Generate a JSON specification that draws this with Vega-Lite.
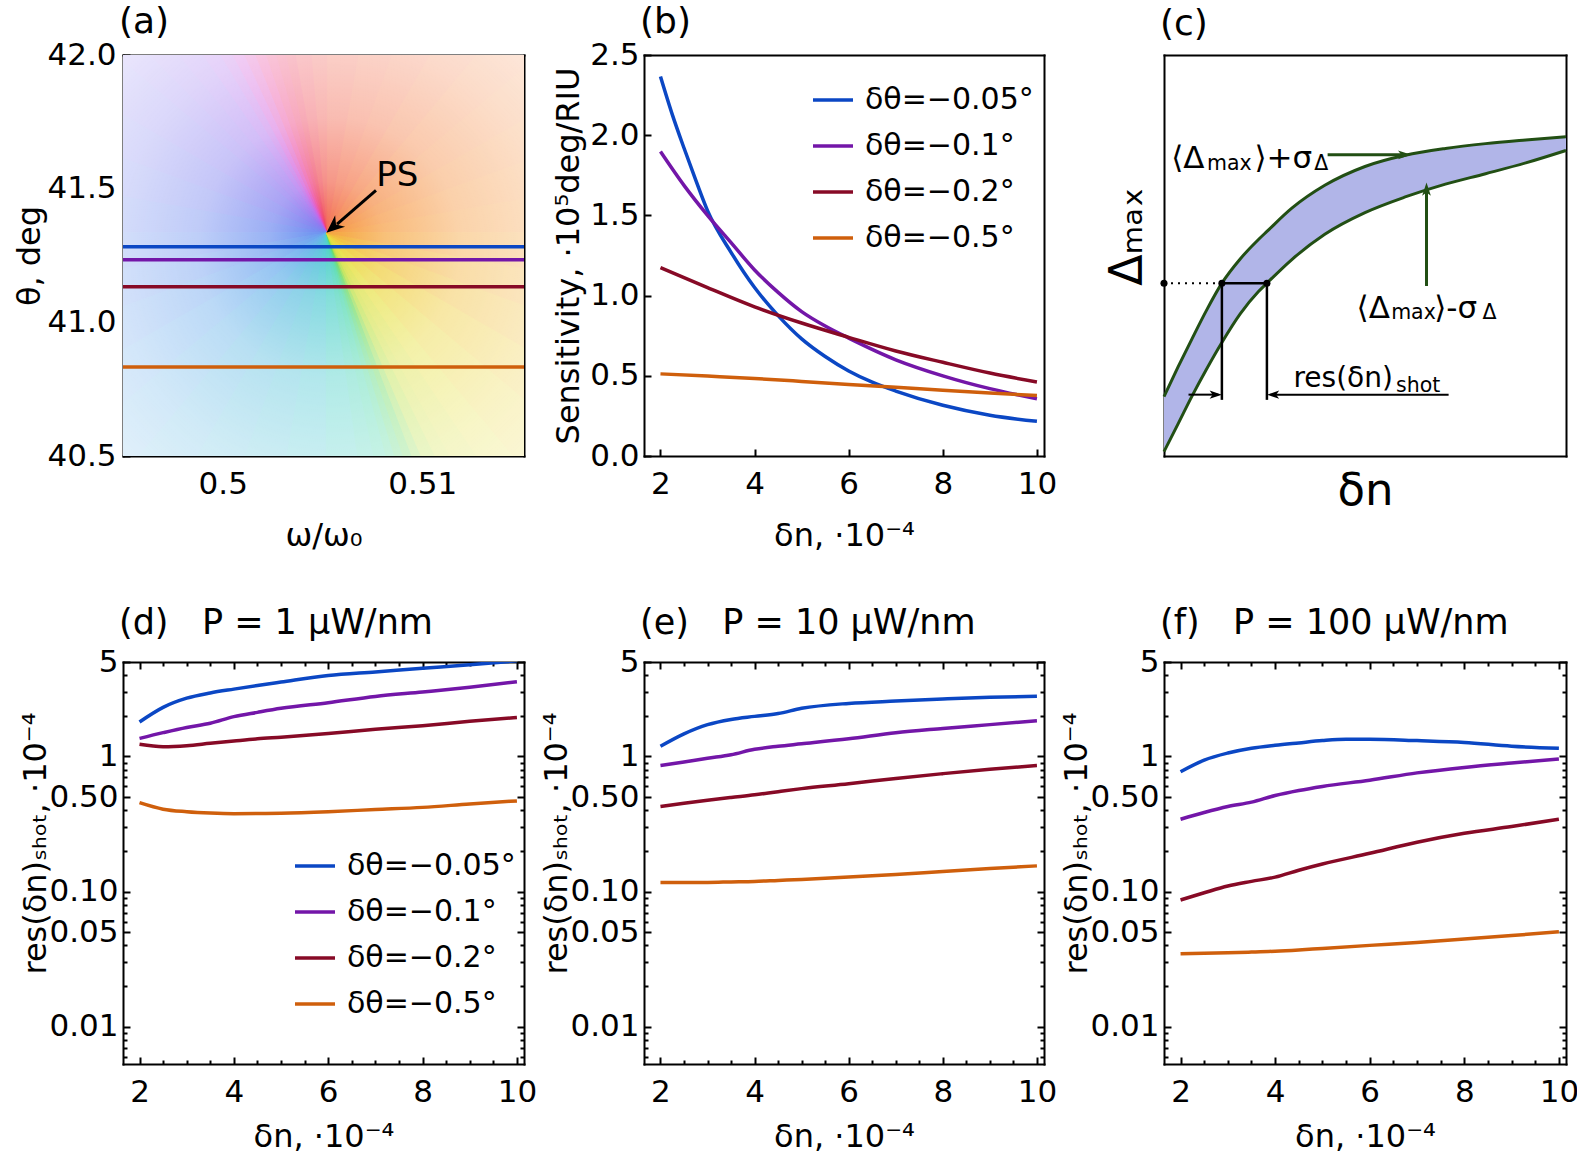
{
 "$schema": "https://vega.github.io/schema/vega-lite/v6.json",
 "autosize": {"type": "pad"},
 "padding": {"left": 13, "top": 4, "right": 5, "bottom": 6},
 "background": "white",
 "columns": 3,
 "spacing": {"row": 206, "column": 120},
 "bounds": "flush",
 "config": {
  "font": "DejaVu Sans",
  "view": {"stroke": null},
  "axis": {"grid": false, "labelFont": "DejaVu Sans", "titleFont": "DejaVu Sans", "labelFontSize": 31, "titleFontSize": 32, "titleFontWeight": "normal", "labelColor": "black", "titleColor": "black", "domainColor": "black", "domainWidth": 2, "domainCap": "square", "tickColor": "black", "tickWidth": 2, "zindex": 1, "labelFlush": false, "labelOverlap": false, "labelBound": false},
  "title": {"font": "DejaVu Sans", "fontWeight": "normal", "color": "black", "anchor": "start", "frame": "group", "baseline": "alphabetic", "dx": -4},
  "legend": {"labelFont": "DejaVu Sans", "labelColor": "black"}
 },
 "resolve": {"scale": {"color": "independent", "stroke": "independent"}, "legend": {"color": "independent"}},
 "datasets": {
  "wedges": [
   {"a0":80,"a1":90,"ph":29.3},{"a0":70,"a1":80,"ph":28},{"a0":60,"a1":70,"ph":26.7},{"a0":50,"a1":60,"ph":25.3},{"a0":40,"a1":50,"ph":24},{"a0":30,"a1":40,"ph":22},{"a0":20,"a1":30,"ph":20},{"a0":10,"a1":20,"ph":18},{"a0":0,"a1":10,"ph":14.7},
   {"a0":355,"a1":360,"ph":11.2},{"a0":350,"a1":355,"ph":6.4},{"a0":347,"a1":350,"ph":1.4},{"a0":344,"a1":347,"ph":352.5},{"a0":341,"a1":344,"ph":342.5},{"a0":338,"a1":341,"ph":327.5},{"a0":335,"a1":338,"ph":312.5},{"a0":332,"a1":335,"ph":299},{"a0":329,"a1":332,"ph":287},{"a0":325,"a1":329,"ph":278.6},{"a0":320,"a1":325,"ph":269},{"a0":315,"a1":320,"ph":263},{"a0":310,"a1":315,"ph":257.7},{"a0":300,"a1":310,"ph":251.9},{"a0":290,"a1":300,"ph":245.6},{"a0":280,"a1":290,"ph":239.4},{"a0":270,"a1":280,"ph":233.1},{"a0":260,"a1":270,"ph":227.5},{"a0":250,"a1":260,"ph":222.5},{"a0":240,"a1":250,"ph":217.5},{"a0":230,"a1":240,"ph":212.5},{"a0":220,"a1":230,"ph":207.3},{"a0":210,"a1":220,"ph":201.8},{"a0":200,"a1":210,"ph":196.3},{"a0":190,"a1":200,"ph":190.8},{"a0":180,"a1":190,"ph":185.6},{"a0":172,"a1":180,"ph":175.6},{"a0":168,"a1":172,"ph":167.1},{"a0":165,"a1":168,"ph":158.6},{"a0":163,"a1":165,"ph":147.5},{"a0":161,"a1":163,"ph":132.5},{"a0":159,"a1":161,"ph":117.5},{"a0":157,"a1":159,"ph":102.5},{"a0":154,"a1":157,"ph":88},{"a0":151,"a1":154,"ph":74},{"a0":146,"a1":151,"ph":68},{"a0":140,"a1":146,"ph":61.5},{"a0":130,"a1":140,"ph":54.5},{"a0":120,"a1":130,"ph":47.5},{"a0":110,"a1":120,"ph":41.7},{"a0":100,"a1":110,"ph":37},{"a0":90,"a1":100,"ph":32.3}
  ],
  "hl": [
   {"t":41.283,"k":"δθ=−0.05°"},{"t":41.234,"k":"δθ=−0.1°"},{"t":41.133,"k":"δθ=−0.2°"},{"t":40.833,"k":"δθ=−0.5°"}
  ],
  "ps": [{"w":0.5052,"t":41.335}],
  "psarrow": [{"w0":0.50768,"t0":41.494,"w1":0.50573,"t1":41.367}],
  "pslabel": [{"w":0.5077,"t":41.547,"label":"PS"}],
  "sens": [
   {"k":"δθ=−0.05°","dn":2,"s":2.366},{"k":"δθ=−0.05°","dn":2.25,"s":2.13},{"k":"δθ=−0.05°","dn":2.5,"s":1.92},{"k":"δθ=−0.05°","dn":2.75,"s":1.72},{"k":"δθ=−0.05°","dn":3,"s":1.53},{"k":"δθ=−0.05°","dn":3.5,"s":1.27},{"k":"δθ=−0.05°","dn":4,"s":1.05},{"k":"δθ=−0.05°","dn":4.5,"s":0.875},{"k":"δθ=−0.05°","dn":5,"s":0.73},{"k":"δθ=−0.05°","dn":5.5,"s":0.62},{"k":"δθ=−0.05°","dn":6,"s":0.53},{"k":"δθ=−0.05°","dn":6.5,"s":0.46},{"k":"δθ=−0.05°","dn":7,"s":0.405},{"k":"δθ=−0.05°","dn":8,"s":0.316},{"k":"δθ=−0.05°","dn":9,"s":0.254},{"k":"δθ=−0.05°","dn":10,"s":0.216},
   {"k":"δθ=−0.1°","dn":2,"s":1.898},{"k":"δθ=−0.1°","dn":2.5,"s":1.687},{"k":"δθ=−0.1°","dn":3,"s":1.5},{"k":"δθ=−0.1°","dn":3.5,"s":1.33},{"k":"δθ=−0.1°","dn":4,"s":1.16},{"k":"δθ=−0.1°","dn":4.5,"s":1.02},{"k":"δθ=−0.1°","dn":5,"s":0.9},{"k":"δθ=−0.1°","dn":5.5,"s":0.81},{"k":"δθ=−0.1°","dn":6,"s":0.735},{"k":"δθ=−0.1°","dn":7,"s":0.6},{"k":"δθ=−0.1°","dn":8,"s":0.5},{"k":"δθ=−0.1°","dn":9,"s":0.42},{"k":"δθ=−0.1°","dn":10,"s":0.357},
   {"k":"δθ=−0.2°","dn":2,"s":1.174},{"k":"δθ=−0.2°","dn":3,"s":1.05},{"k":"δθ=−0.2°","dn":4,"s":0.93},{"k":"δθ=−0.2°","dn":5,"s":0.829},{"k":"δθ=−0.2°","dn":6,"s":0.74},{"k":"δθ=−0.2°","dn":7,"s":0.655},{"k":"δθ=−0.2°","dn":8,"s":0.584},{"k":"δθ=−0.2°","dn":9,"s":0.517},{"k":"δθ=−0.2°","dn":10,"s":0.461},
   {"k":"δθ=−0.5°","dn":2,"s":0.512},{"k":"δθ=−0.5°","dn":3,"s":0.498},{"k":"δθ=−0.5°","dn":4,"s":0.483},{"k":"δθ=−0.5°","dn":5,"s":0.465},{"k":"δθ=−0.5°","dn":6,"s":0.446},{"k":"δθ=−0.5°","dn":7,"s":0.428},{"k":"δθ=−0.5°","dn":8,"s":0.41},{"k":"δθ=−0.5°","dn":9,"s":0.393},{"k":"δθ=−0.5°","dn":10,"s":0.377}
  ],
  "d1": [
   {"k":"δθ=−0.05°","dn":2,"r":1.8},{"k":"δθ=−0.05°","dn":2.5,"r":2.31},{"k":"δθ=−0.05°","dn":3,"r":2.7},{"k":"δθ=−0.05°","dn":3.5,"r":2.95},{"k":"δθ=−0.05°","dn":4,"r":3.15},{"k":"δθ=−0.05°","dn":4.5,"r":3.35},{"k":"δθ=−0.05°","dn":5,"r":3.55},{"k":"δθ=−0.05°","dn":6,"r":3.97},{"k":"δθ=−0.05°","dn":7,"r":4.22},{"k":"δθ=−0.05°","dn":8,"r":4.49},{"k":"δθ=−0.05°","dn":9,"r":4.77},{"k":"δθ=−0.05°","dn":10,"r":5.1},
   {"k":"δθ=−0.1°","dn":2,"r":1.36},{"k":"δθ=−0.1°","dn":2.5,"r":1.5},{"k":"δθ=−0.1°","dn":3,"r":1.64},{"k":"δθ=−0.1°","dn":3.5,"r":1.76},{"k":"δθ=−0.1°","dn":4,"r":1.97},{"k":"δθ=−0.1°","dn":4.5,"r":2.12},{"k":"δθ=−0.1°","dn":5,"r":2.27},{"k":"δθ=−0.1°","dn":6,"r":2.5},{"k":"δθ=−0.1°","dn":7,"r":2.78},{"k":"δθ=−0.1°","dn":8,"r":3.0},{"k":"δθ=−0.1°","dn":9,"r":3.25},{"k":"δθ=−0.1°","dn":10,"r":3.57},
   {"k":"δθ=−0.2°","dn":2,"r":1.23},{"k":"δθ=−0.2°","dn":2.5,"r":1.18},{"k":"δθ=−0.2°","dn":3,"r":1.2},{"k":"δθ=−0.2°","dn":3.5,"r":1.25},{"k":"δθ=−0.2°","dn":4,"r":1.3},{"k":"δθ=−0.2°","dn":4.5,"r":1.35},{"k":"δθ=−0.2°","dn":5,"r":1.39},{"k":"δθ=−0.2°","dn":6,"r":1.48},{"k":"δθ=−0.2°","dn":7,"r":1.59},{"k":"δθ=−0.2°","dn":8,"r":1.69},{"k":"δθ=−0.2°","dn":9,"r":1.82},{"k":"δθ=−0.2°","dn":10,"r":1.94},
   {"k":"δθ=−0.5°","dn":2,"r":0.455},{"k":"δθ=−0.5°","dn":2.5,"r":0.407},{"k":"δθ=−0.5°","dn":3,"r":0.39},{"k":"δθ=−0.5°","dn":3.5,"r":0.381},{"k":"δθ=−0.5°","dn":4,"r":0.377},{"k":"δθ=−0.5°","dn":4.5,"r":0.378},{"k":"δθ=−0.5°","dn":5,"r":0.38},{"k":"δθ=−0.5°","dn":6,"r":0.39},{"k":"δθ=−0.5°","dn":7,"r":0.405},{"k":"δθ=−0.5°","dn":8,"r":0.42},{"k":"δθ=−0.5°","dn":9,"r":0.445},{"k":"δθ=−0.5°","dn":10,"r":0.469}
  ],
  "d10": [
   {"k":"δθ=−0.05°","dn":2,"r":1.19},{"k":"δθ=−0.05°","dn":2.5,"r":1.47},{"k":"δθ=−0.05°","dn":3,"r":1.72},{"k":"δθ=−0.05°","dn":3.5,"r":1.88},{"k":"δθ=−0.05°","dn":4,"r":1.98},{"k":"δθ=−0.05°","dn":4.5,"r":2.08},{"k":"δθ=−0.05°","dn":5,"r":2.27},{"k":"δθ=−0.05°","dn":6,"r":2.47},{"k":"δθ=−0.05°","dn":7,"r":2.57},{"k":"δθ=−0.05°","dn":8,"r":2.66},{"k":"δθ=−0.05°","dn":9,"r":2.74},{"k":"δθ=−0.05°","dn":10,"r":2.79},
   {"k":"δθ=−0.1°","dn":2,"r":0.856},{"k":"δθ=−0.1°","dn":2.5,"r":0.91},{"k":"δθ=−0.1°","dn":3,"r":0.97},{"k":"δθ=−0.1°","dn":3.5,"r":1.03},{"k":"δθ=−0.1°","dn":4,"r":1.13},{"k":"δθ=−0.1°","dn":4.5,"r":1.19},{"k":"δθ=−0.1°","dn":5,"r":1.24},{"k":"δθ=−0.1°","dn":6,"r":1.35},{"k":"δθ=−0.1°","dn":7,"r":1.5},{"k":"δθ=−0.1°","dn":8,"r":1.61},{"k":"δθ=−0.1°","dn":9,"r":1.72},{"k":"δθ=−0.1°","dn":10,"r":1.84},
   {"k":"δθ=−0.2°","dn":2,"r":0.426},{"k":"δθ=−0.2°","dn":2.5,"r":0.45},{"k":"δθ=−0.2°","dn":3,"r":0.474},{"k":"δθ=−0.2°","dn":3.5,"r":0.497},{"k":"δθ=−0.2°","dn":4,"r":0.52},{"k":"δθ=−0.2°","dn":4.5,"r":0.549},{"k":"δθ=−0.2°","dn":5,"r":0.578},{"k":"δθ=−0.2°","dn":6,"r":0.627},{"k":"δθ=−0.2°","dn":7,"r":0.688},{"k":"δθ=−0.2°","dn":8,"r":0.746},{"k":"δθ=−0.2°","dn":9,"r":0.804},{"k":"δθ=−0.2°","dn":10,"r":0.856},
   {"k":"δθ=−0.5°","dn":2,"r":0.117},{"k":"δθ=−0.5°","dn":2.5,"r":0.117},{"k":"δθ=−0.5°","dn":3,"r":0.117},{"k":"δθ=−0.5°","dn":3.5,"r":0.118},{"k":"δθ=−0.5°","dn":4,"r":0.119},{"k":"δθ=−0.5°","dn":4.5,"r":0.121},{"k":"δθ=−0.5°","dn":5,"r":0.123},{"k":"δθ=−0.5°","dn":6,"r":0.128},{"k":"δθ=−0.5°","dn":7,"r":0.134},{"k":"δθ=−0.5°","dn":8,"r":0.141},{"k":"δθ=−0.5°","dn":9,"r":0.148},{"k":"δθ=−0.5°","dn":10,"r":0.155}
  ],
  "d100": [
   {"k":"δθ=−0.05°","dn":2,"r":0.77},{"k":"δθ=−0.05°","dn":2.5,"r":0.94},{"k":"δθ=−0.05°","dn":3,"r":1.06},{"k":"δθ=−0.05°","dn":3.5,"r":1.15},{"k":"δθ=−0.05°","dn":4,"r":1.21},{"k":"δθ=−0.05°","dn":4.5,"r":1.26},{"k":"δθ=−0.05°","dn":5,"r":1.31},{"k":"δθ=−0.05°","dn":5.5,"r":1.34},{"k":"δθ=−0.05°","dn":6,"r":1.34},{"k":"δθ=−0.05°","dn":7,"r":1.31},{"k":"δθ=−0.05°","dn":8,"r":1.27},{"k":"δθ=−0.05°","dn":9,"r":1.19},{"k":"δθ=−0.05°","dn":10,"r":1.15},
   {"k":"δθ=−0.1°","dn":2,"r":0.343},{"k":"δθ=−0.1°","dn":2.5,"r":0.385},{"k":"δθ=−0.1°","dn":3,"r":0.426},{"k":"δθ=−0.1°","dn":3.5,"r":0.459},{"k":"δθ=−0.1°","dn":4,"r":0.514},{"k":"δθ=−0.1°","dn":4.5,"r":0.56},{"k":"δθ=−0.1°","dn":5,"r":0.6},{"k":"δθ=−0.1°","dn":6,"r":0.667},{"k":"δθ=−0.1°","dn":7,"r":0.756},{"k":"δθ=−0.1°","dn":8,"r":0.83},{"k":"δθ=−0.1°","dn":9,"r":0.894},{"k":"δθ=−0.1°","dn":10,"r":0.957},
   {"k":"δθ=−0.2°","dn":2,"r":0.0867},{"k":"δθ=−0.2°","dn":2.5,"r":0.098},{"k":"δθ=−0.2°","dn":3,"r":0.11},{"k":"δθ=−0.2°","dn":3.5,"r":0.119},{"k":"δθ=−0.2°","dn":4,"r":0.128},{"k":"δθ=−0.2°","dn":4.5,"r":0.144},{"k":"δθ=−0.2°","dn":5,"r":0.16},{"k":"δθ=−0.2°","dn":6,"r":0.192},{"k":"δθ=−0.2°","dn":7,"r":0.232},{"k":"δθ=−0.2°","dn":8,"r":0.27},{"k":"δθ=−0.2°","dn":9,"r":0.303},{"k":"δθ=−0.2°","dn":10,"r":0.343},
   {"k":"δθ=−0.5°","dn":2,"r":0.0347},{"k":"δθ=−0.5°","dn":2.5,"r":0.035},{"k":"δθ=−0.5°","dn":3,"r":0.0353},{"k":"δθ=−0.5°","dn":3.5,"r":0.0357},{"k":"δθ=−0.5°","dn":4,"r":0.0362},{"k":"δθ=−0.5°","dn":4.5,"r":0.037},{"k":"δθ=−0.5°","dn":5,"r":0.038},{"k":"δθ=−0.5°","dn":6,"r":0.04},{"k":"δθ=−0.5°","dn":7,"r":0.042},{"k":"δθ=−0.5°","dn":8,"r":0.0445},{"k":"δθ=−0.5°","dn":9,"r":0.0473},{"k":"δθ=−0.5°","dn":10,"r":0.0504}
  ],
  "band": [
   {"x":0,"hi":0.148,"lo":0.011},{"x":0.035,"hi":0.222,"lo":0.08},{"x":0.069,"hi":0.291,"lo":0.148},{"x":0.105,"hi":0.362,"lo":0.215},{"x":0.144,"hi":0.431,"lo":0.283},{"x":0.19,"hi":0.492,"lo":0.355},{"x":0.235,"hi":0.54,"lo":0.41},{"x":0.256,"hi":0.56,"lo":0.431},{"x":0.318,"hi":0.618,"lo":0.49},{"x":0.4,"hi":0.675,"lo":0.553},{"x":0.5,"hi":0.722,"lo":0.607},{"x":0.6,"hi":0.75,"lo":0.646},{"x":0.7,"hi":0.767,"lo":0.678},{"x":0.8,"hi":0.779,"lo":0.704},{"x":0.9,"hi":0.788,"lo":0.731},{"x":1.0,"hi":0.796,"lo":0.762}
  ],
  "dotted": [{"x":0,"x2":0.144,"y":0.431,"y2":0.431}],
  "segs": [{"x":0.144,"x2":0.256,"y":0.431,"y2":0.431},{"x":0.144,"x2":0.144,"y":0.14,"y2":0.431},{"x":0.256,"x2":0.256,"y":0.14,"y2":0.431}],
  "dots": [{"x":0,"y":0.431},{"x":0.144,"y":0.431},{"x":0.256,"y":0.431}],
  "blackarrows": [{"x":0.061,"x2":0.135,"y":0.153,"y2":0.153},{"x":0.708,"x2":0.265,"y":0.153,"y2":0.153}],
  "headR": [{"x":0.144,"y":0.153}],
  "headL": [{"x":0.256,"y":0.153}],
  "greenarrows": [{"x":0.407,"x2":0.6,"y":0.751,"y2":0.751},{"x":0.653,"x2":0.653,"y":0.424,"y2":0.665}],
  "headGR": [{"x":0.615,"y":0.751}],
  "headGU": [{"x":0.653,"y":0.682}],
  "ctext": [{"x":0.018,"y":0.717,"label":"⟨Δ"},{"x":0.225,"y":0.717,"label":"⟩+σ"},{"x":0.479,"y":0.344,"label":"⟨Δ"},{"x":0.672,"y":0.344,"label":"⟩-σ"}],
  "ctext2": [{"x":0.322,"y":0.172,"label":"res(δn)"}],
  "csub": [{"x":0.107,"y":0.712,"label":"max"},{"x":0.374,"y":0.712,"label":"Δ"},{"x":0.565,"y":0.341,"label":"max"},{"x":0.792,"y":0.341,"label":"Δ"},{"x":0.577,"y":0.16,"label":"shot"}]
 },
 "concat": [
  {
   "width": 401, "height": 401,
   "title": {"text": "(a)", "fontSize": 36, "offset": -2},
   "layer": [
    {"data": {"name": "wedges"},
     "mark": {"type": "arc", "clip": true, "radius": 700, "radius2": 0, "strokeWidth": 1.2},
     "encoding": {
      "x": {"datum": 0.5052, "type": "quantitative", "scale": {"domain": [0.495, 0.5151], "nice": false, "zero": false}, "axis": null},
      "y": {"datum": 41.335, "type": "quantitative", "scale": {"domain": [40.5, 42], "nice": false, "zero": false}, "axis": null},
      "theta": {"field": "a0", "type": "quantitative", "stack": null, "scale": {"domain": [0, 360], "range": [0, 6.283185]}},
      "theta2": {"field": "a1"},
      "color": {"field": "ph", "type": "quantitative", "legend": null, "scale": {"domain": [0,20,30,45,60,90,120,155,180,210,230,255,278,300,330,360], "range": ["#ee4060","#f47a50","#f6a040","#f0c838","#e8e040","#b8e040","#60d860","#48d8a8","#50d0d0","#68b0ec","#6e8ef0","#8878f0","#a868ee","#d050d8","#ec4098","#ee4060"], "interpolate": "rgb"}},
      "stroke": {"field": "ph", "type": "quantitative", "legend": null, "scale": {"domain": [0,20,30,45,60,90,120,155,180,210,230,255,278,300,330,360], "range": ["#ee4060","#f47a50","#f6a040","#f0c838","#e8e040","#b8e040","#60d860","#48d8a8","#50d0d0","#68b0ec","#6e8ef0","#8878f0","#a868ee","#d050d8","#ec4098","#ee4060"], "interpolate": "rgb"}}
     }},
    {"data": {"values": [{"w0": 0.495, "w1": 0.5151, "t0": 40.5, "t1": 42}]},
     "mark": {"type": "rect", "fill": {"gradient": "radial", "x1": 0.504, "y1": 0.445, "r1": 0, "x2": 0.53, "y2": 0.52, "r2": 0.72, "stops": [{"offset": 0, "color": "rgba(255,255,255,0)"}, {"offset": 0.05, "color": "rgba(255,255,255,0.05)"}, {"offset": 0.2, "color": "rgba(255,255,255,0.3)"}, {"offset": 0.45, "color": "rgba(255,255,255,0.55)"}, {"offset": 0.75, "color": "rgba(255,255,255,0.7)"}, {"offset": 1, "color": "rgba(255,255,255,0.8)"}]}},
     "encoding": {"x": {"field": "w0", "type": "quantitative", "axis": null}, "x2": {"field": "w1"}, "y": {"field": "t0", "type": "quantitative", "axis": null}, "y2": {"field": "t1"}}},
    {"data": {"name": "hl"},
     "mark": {"type": "rule", "strokeWidth": 3.5},
     "encoding": {"y": {"field": "t", "type": "quantitative", "axis": null}, "color": {"field": "k", "type": "nominal", "legend": null, "scale": {"domain": ["δθ=−0.05°","δθ=−0.1°","δθ=−0.2°","δθ=−0.5°"], "range": ["#0b47c4","#7316a8","#870a26","#cf5f0c"]}}}},
    {"data": {"name": "psarrow"},
     "mark": {"type": "rule", "strokeWidth": 3, "color": "black"},
     "encoding": {"x": {"field": "w0", "type": "quantitative", "axis": null}, "x2": {"field": "w1"}, "y": {"field": "t0", "type": "quantitative", "axis": null}, "y2": {"field": "t1"}}},
    {"data": {"name": "ps"},
     "mark": {"type": "point", "shape": "M0,0L-1,-0.42L-0.7,0L-1,0.42Z", "filled": true, "color": "black", "opacity": 1, "size": 1300, "angle": 139, "strokeWidth": 0},
     "encoding": {"x": {"field": "w", "type": "quantitative", "axis": null}, "y": {"field": "t", "type": "quantitative", "axis": null}}},
    {"data": {"name": "pslabel"},
     "mark": {"type": "text", "fontSize": 34, "align": "left", "baseline": "middle", "color": "black"},
     "encoding": {"x": {"field": "w", "type": "quantitative", "axis": null}, "y": {"field": "t", "type": "quantitative", "axis": null}, "text": {"field": "label"}}},
    {"data": {"name": "ps"},
     "mark": {"type": "point", "opacity": 0},
     "encoding": {
      "x": {"field": "w", "type": "quantitative", "scale": {"domain": [0.495, 0.5151], "nice": false, "zero": false}, "axis": {"orient": "bottom", "values": [0.5, 0.51], "format": "~g", "tickSize": -7, "labelPadding": 20, "title": "ω/ω₀", "titleY": 89, "titleBaseline": "alphabetic"}},
      "y": {"field": "t", "type": "quantitative", "scale": {"domain": [40.5, 42], "nice": false, "zero": false}, "axis": {"orient": "left", "values": [40.5, 41, 41.5, 42], "format": ".1f", "tickSize": -7, "labelPadding": 14, "title": "θ, deg", "titleX": -94, "titleBaseline": "middle"}}}},
    {"data": {"name": "ps"},
     "mark": {"type": "point", "opacity": 0},
     "encoding": {
      "x": {"field": "w", "type": "quantitative", "axis": {"orient": "top", "labels": false, "ticks": false, "title": null}},
      "y": {"field": "t", "type": "quantitative", "axis": {"orient": "right", "labels": false, "ticks": false, "title": null}}}}
   ],
   "resolve": {"scale": {"color": "independent", "stroke": "independent"}, "axis": {"x": "independent", "y": "independent"}}
  },
  {
   "width": 400, "height": 401,
   "title": {"text": "(b)", "fontSize": 36, "offset": -2},
   "data": {"name": "sens"},
   "layer": [
    {"mark": {"type": "line", "strokeWidth": 3.5, "clip": true, "interpolate": "monotone"},
     "encoding": {
      "x": {"field": "dn", "type": "quantitative", "scale": {"domain": [1.65, 10.15], "nice": false, "zero": false}, "axis": {"orient": "bottom", "values": [2,4,6,8,10], "tickSize": -7, "labelPadding": 20, "title": "δn, ·10⁻⁴", "titleY": 89, "titleBaseline": "alphabetic"}},
      "y": {"field": "s", "type": "quantitative", "scale": {"domain": [0, 2.5], "nice": false, "zero": false}, "axis": {"orient": "left", "values": [0,0.5,1,1.5,2,2.5], "format": ".1f", "tickSize": -7, "labelPadding": 12, "title": "Sensitivity, ·10⁵deg/RIU", "titleX": -76, "titleBaseline": "middle"}},
      "color": {"field": "k", "type": "nominal", "scale": {"domain": ["δθ=−0.05°","δθ=−0.1°","δθ=−0.2°","δθ=−0.5°"], "range": ["#0b47c4","#7316a8","#870a26","#cf5f0c"]}, "legend": {"orient": "none", "legendX": 167, "legendY": 23, "title": null, "symbolType": "stroke", "symbolSize": 1600, "symbolStrokeWidth": 3.5, "labelFontSize": 30, "labelOffset": 10, "rowPadding": 9, "labelLimit": 400}}
     }},
    {"mark": {"type": "point", "opacity": 0},
     "encoding": {
      "x": {"field": "dn", "type": "quantitative", "axis": {"orient": "top", "labels": false, "ticks": false, "title": null}},
      "y": {"field": "s", "type": "quantitative", "axis": {"orient": "right", "labels": false, "ticks": false, "title": null}}}}
   ],
   "resolve": {"axis": {"x": "independent", "y": "independent"}}
  },
  {
   "width": 402, "height": 401,
   "title": {"text": "(c)", "fontSize": 36, "offset": 12},
   "layer": [
    {"data": {"name": "band"}, "mark": {"type": "area", "color": "#b1b5e8", "opacity": 1, "interpolate": "monotone"},
     "encoding": {"x": {"field": "x", "type": "quantitative", "scale": {"domain": [0, 1], "nice": false, "zero": false}, "axis": null}, "y": {"field": "lo", "type": "quantitative", "scale": {"domain": [0, 1], "nice": false, "zero": false}, "axis": null}, "y2": {"field": "hi"}}},
    {"data": {"name": "band"}, "mark": {"type": "line", "color": "#224f14", "strokeWidth": 3, "interpolate": "monotone"},
     "encoding": {"x": {"field": "x", "type": "quantitative", "axis": null}, "y": {"field": "hi", "type": "quantitative", "axis": null}}},
    {"data": {"name": "band"}, "mark": {"type": "line", "color": "#224f14", "strokeWidth": 3, "interpolate": "monotone"},
     "encoding": {"x": {"field": "x", "type": "quantitative", "axis": null}, "y": {"field": "lo", "type": "quantitative", "axis": null}}},
    {"data": {"name": "dotted"}, "mark": {"type": "rule", "strokeDash": [2, 5], "strokeWidth": 2, "color": "black"},
     "encoding": {"x": {"field": "x", "type": "quantitative", "axis": null}, "x2": {"field": "x2"}, "y": {"field": "y", "type": "quantitative", "axis": null}, "y2": {"field": "y2"}}},
    {"data": {"name": "segs"}, "mark": {"type": "rule", "strokeWidth": 2.5, "color": "black"},
     "encoding": {"x": {"field": "x", "type": "quantitative", "axis": null}, "x2": {"field": "x2"}, "y": {"field": "y", "type": "quantitative", "axis": null}, "y2": {"field": "y2"}}},
    {"data": {"name": "dots"}, "mark": {"type": "point", "filled": true, "color": "black", "size": 50, "opacity": 1},
     "encoding": {"x": {"field": "x", "type": "quantitative", "axis": null}, "y": {"field": "y", "type": "quantitative", "axis": null}}},
    {"data": {"name": "blackarrows"}, "mark": {"type": "rule", "strokeWidth": 2, "color": "black"},
     "encoding": {"x": {"field": "x", "type": "quantitative", "axis": null}, "x2": {"field": "x2"}, "y": {"field": "y", "type": "quantitative", "axis": null}, "y2": {"field": "y2"}}},
    {"data": {"name": "headR"}, "mark": {"type": "point", "shape": "M0,0L-1,-0.33L-0.75,0L-1,0.33Z", "filled": true, "color": "black", "opacity": 1, "size": 600, "angle": 0, "strokeWidth": 0},
     "encoding": {"x": {"field": "x", "type": "quantitative", "axis": null}, "y": {"field": "y", "type": "quantitative", "axis": null}}},
    {"data": {"name": "headL"}, "mark": {"type": "point", "shape": "M0,0L-1,-0.33L-0.75,0L-1,0.33Z", "filled": true, "color": "black", "opacity": 1, "size": 600, "angle": 180, "strokeWidth": 0},
     "encoding": {"x": {"field": "x", "type": "quantitative", "axis": null}, "y": {"field": "y", "type": "quantitative", "axis": null}}},
    {"data": {"name": "greenarrows"}, "mark": {"type": "rule", "strokeWidth": 3, "color": "#224f14"},
     "encoding": {"x": {"field": "x", "type": "quantitative", "axis": null}, "x2": {"field": "x2"}, "y": {"field": "y", "type": "quantitative", "axis": null}, "y2": {"field": "y2"}}},
    {"data": {"name": "headGR"}, "mark": {"type": "point", "shape": "M0,0L-1,-0.33L-0.75,0L-1,0.33Z", "filled": true, "color": "#224f14", "opacity": 1, "size": 700, "angle": 0, "strokeWidth": 0},
     "encoding": {"x": {"field": "x", "type": "quantitative", "axis": null}, "y": {"field": "y", "type": "quantitative", "axis": null}}},
    {"data": {"name": "headGU"}, "mark": {"type": "point", "shape": "M0,0L-1,-0.33L-0.75,0L-1,0.33Z", "filled": true, "color": "#224f14", "opacity": 1, "size": 700, "angle": 270, "strokeWidth": 0},
     "encoding": {"x": {"field": "x", "type": "quantitative", "axis": null}, "y": {"field": "y", "type": "quantitative", "axis": null}}},
    {"data": {"name": "ctext"}, "mark": {"type": "text", "fontSize": 31, "align": "left", "baseline": "alphabetic", "color": "black"},
     "encoding": {"x": {"field": "x", "type": "quantitative", "axis": null}, "y": {"field": "y", "type": "quantitative", "axis": null}, "text": {"field": "label"}}},
    {"data": {"name": "ctext2"}, "mark": {"type": "text", "fontSize": 28, "align": "left", "baseline": "alphabetic", "color": "black"},
     "encoding": {"x": {"field": "x", "type": "quantitative", "axis": null}, "y": {"field": "y", "type": "quantitative", "axis": null}, "text": {"field": "label"}}},
    {"data": {"name": "csub"}, "mark": {"type": "text", "fontSize": 20.5, "align": "left", "baseline": "alphabetic", "color": "black"},
     "encoding": {"x": {"field": "x", "type": "quantitative", "axis": null}, "y": {"field": "y", "type": "quantitative", "axis": null}, "text": {"field": "label"}}},
    {"data": {"name": "dots"}, "mark": {"type": "point", "opacity": 0},
     "encoding": {
      "x": {"field": "x", "type": "quantitative", "scale": {"domain": [0, 1], "nice": false, "zero": false}, "axis": {"orient": "bottom", "labels": false, "ticks": false, "title": "δn", "titleFontSize": 45, "titleY": 48, "titleBaseline": "alphabetic"}},
      "y": {"field": "y", "type": "quantitative", "scale": {"domain": [0, 1], "nice": false, "zero": false}, "axis": {"orient": "left", "labels": false, "ticks": false, "title": "Δₘₐₓ", "titleFontSize": 46, "titleX": -23, "titleY": 181, "titleBaseline": "alphabetic"}}}},
    {"data": {"name": "dots"}, "mark": {"type": "point", "opacity": 0},
     "encoding": {
      "x": {"field": "x", "type": "quantitative", "axis": {"orient": "top", "labels": false, "ticks": false, "title": null}},
      "y": {"field": "y", "type": "quantitative", "axis": {"orient": "right", "labels": false, "ticks": false, "title": null}}}}
   ],
   "resolve": {"axis": {"x": "independent", "y": "independent"}}
  },
  {
   "width": 401, "height": 402,
   "title": {"text": "(d)\u00a0\u00a0\u00a0P = 1 μW/nm", "fontSize": 35, "offset": 5},
   "data": {"name": "d1"},
   "layer": [
    {"mark": {"type": "line", "strokeWidth": 3.5, "clip": true, "interpolate": "monotone"},
     "encoding": {
      "x": {"field": "dn", "type": "quantitative", "scale": {"domain": [1.65, 10.15], "nice": false, "zero": false}, "axis": {"orient": "bottom", "values": [2,4,6,8,10], "tickSize": -7, "labelPadding": 20, "title": "δn, ·10⁻⁴", "titleY": 82, "titleBaseline": "alphabetic"}},
      "y": {"field": "r", "type": "quantitative", "scale": {"type": "log", "domain": [0.0053, 5], "nice": false}, "axis": {"orient": "left", "values": [0.01,0.05,0.1,0.5,1,5], "labelExpr": "datum.value >= 1 ? format(datum.value, 'd') : (datum.value == 0.5 ? '0.50' : (datum.value == 0.1 ? '0.10' : format(datum.value, '.2f')))", "tickSize": -7, "labelPadding": 12, "title": "res(δn)ₛₕₒₜ, ·10⁻⁴", "titleX": -88, "titleY": 181, "titleBaseline": "middle"}},
      "color": {"field": "k", "type": "nominal", "scale": {"domain": ["δθ=−0.05°","δθ=−0.1°","δθ=−0.2°","δθ=−0.5°"], "range": ["#0b47c4","#7316a8","#870a26","#cf5f0c"]}, "legend": {"orient": "none", "legendX": 170, "legendY": 182, "title": null, "symbolType": "stroke", "symbolSize": 1600, "symbolStrokeWidth": 3.5, "labelFontSize": 30, "labelOffset": 10, "rowPadding": 9, "labelLimit": 400}}
     }},
    {"mark": {"type": "point", "opacity": 0},
     "encoding": {
      "x": {"field": "dn", "type": "quantitative", "axis": {"orient": "top", "labels": false, "values": [2,4,6,8,10], "tickSize": -7, "title": null}},
      "y": {"field": "r", "type": "quantitative", "axis": {"orient": "right", "labels": false, "values": [0.01,0.05,0.1,0.5,1,5], "tickSize": -7, "title": null}}}},
    {"mark": {"type": "point", "opacity": 0},
     "encoding": {
      "x": {"field": "dn", "type": "quantitative", "axis": {"orient": "bottom", "labels": false, "domain": false, "values": [2.5,3,3.5,4.5,5,5.5,6.5,7,7.5,8.5,9,9.5], "tickSize": -4, "title": null}},
      "y": {"field": "r", "type": "quantitative", "axis": {"orient": "left", "labels": false, "domain": false, "values": [0.006,0.007,0.008,0.009,0.02,0.03,0.04,0.06,0.07,0.08,0.09,0.2,0.3,0.4,0.6,0.7,0.8,0.9,2,3,4], "tickSize": -4, "title": null}}}},
    {"mark": {"type": "point", "opacity": 0},
     "encoding": {
      "x": {"field": "dn", "type": "quantitative", "axis": {"orient": "top", "labels": false, "domain": false, "values": [2.5,3,3.5,4.5,5,5.5,6.5,7,7.5,8.5,9,9.5], "tickSize": -4, "title": null}},
      "y": {"field": "r", "type": "quantitative", "axis": {"orient": "right", "labels": false, "domain": false, "values": [0.006,0.007,0.008,0.009,0.02,0.03,0.04,0.06,0.07,0.08,0.09,0.2,0.3,0.4,0.6,0.7,0.8,0.9,2,3,4], "tickSize": -4, "title": null}}}}
   ],
   "resolve": {"axis": {"x": "independent", "y": "independent"}}
  },
  {
   "width": 400, "height": 402,
   "title": {"text": "(e)\u00a0\u00a0\u00a0P = 10 μW/nm", "fontSize": 35, "offset": 5},
   "data": {"name": "d10"},
   "layer": [
    {"mark": {"type": "line", "strokeWidth": 3.5, "clip": true, "interpolate": "monotone"},
     "encoding": {
      "x": {"field": "dn", "type": "quantitative", "scale": {"domain": [1.65, 10.15], "nice": false, "zero": false}, "axis": {"orient": "bottom", "values": [2,4,6,8,10], "tickSize": -7, "labelPadding": 20, "title": "δn, ·10⁻⁴", "titleY": 82, "titleBaseline": "alphabetic"}},
      "y": {"field": "r", "type": "quantitative", "scale": {"type": "log", "domain": [0.0053, 5], "nice": false}, "axis": {"orient": "left", "values": [0.01,0.05,0.1,0.5,1,5], "labelExpr": "datum.value >= 1 ? format(datum.value, 'd') : (datum.value == 0.5 ? '0.50' : (datum.value == 0.1 ? '0.10' : format(datum.value, '.2f')))", "tickSize": -7, "labelPadding": 12, "title": "res(δn)ₛₕₒₜ, ·10⁻⁴", "titleX": -88, "titleY": 181, "titleBaseline": "middle"}},
      "color": {"field": "k", "type": "nominal", "scale": {"domain": ["δθ=−0.05°","δθ=−0.1°","δθ=−0.2°","δθ=−0.5°"], "range": ["#0b47c4","#7316a8","#870a26","#cf5f0c"]}, "legend": null}
     }},
    {"mark": {"type": "point", "opacity": 0},
     "encoding": {
      "x": {"field": "dn", "type": "quantitative", "axis": {"orient": "top", "labels": false, "values": [2,4,6,8,10], "tickSize": -7, "title": null}},
      "y": {"field": "r", "type": "quantitative", "axis": {"orient": "right", "labels": false, "values": [0.01,0.05,0.1,0.5,1,5], "tickSize": -7, "title": null}}}},
    {"mark": {"type": "point", "opacity": 0},
     "encoding": {
      "x": {"field": "dn", "type": "quantitative", "axis": {"orient": "bottom", "labels": false, "domain": false, "values": [2.5,3,3.5,4.5,5,5.5,6.5,7,7.5,8.5,9,9.5], "tickSize": -4, "title": null}},
      "y": {"field": "r", "type": "quantitative", "axis": {"orient": "left", "labels": false, "domain": false, "values": [0.006,0.007,0.008,0.009,0.02,0.03,0.04,0.06,0.07,0.08,0.09,0.2,0.3,0.4,0.6,0.7,0.8,0.9,2,3,4], "tickSize": -4, "title": null}}}},
    {"mark": {"type": "point", "opacity": 0},
     "encoding": {
      "x": {"field": "dn", "type": "quantitative", "axis": {"orient": "top", "labels": false, "domain": false, "values": [2.5,3,3.5,4.5,5,5.5,6.5,7,7.5,8.5,9,9.5], "tickSize": -4, "title": null}},
      "y": {"field": "r", "type": "quantitative", "axis": {"orient": "right", "labels": false, "domain": false, "values": [0.006,0.007,0.008,0.009,0.02,0.03,0.04,0.06,0.07,0.08,0.09,0.2,0.3,0.4,0.6,0.7,0.8,0.9,2,3,4], "tickSize": -4, "title": null}}}}
   ],
   "resolve": {"axis": {"x": "independent", "y": "independent"}}
  },
  {
   "width": 402, "height": 402,
   "title": {"text": "(f)\u00a0\u00a0\u00a0P = 100 μW/nm", "fontSize": 35, "offset": 5},
   "data": {"name": "d100"},
   "layer": [
    {"mark": {"type": "line", "strokeWidth": 3.5, "clip": true, "interpolate": "monotone"},
     "encoding": {
      "x": {"field": "dn", "type": "quantitative", "scale": {"domain": [1.65, 10.15], "nice": false, "zero": false}, "axis": {"orient": "bottom", "values": [2,4,6,8,10], "tickSize": -7, "labelPadding": 20, "title": "δn, ·10⁻⁴", "titleY": 82, "titleBaseline": "alphabetic"}},
      "y": {"field": "r", "type": "quantitative", "scale": {"type": "log", "domain": [0.0053, 5], "nice": false}, "axis": {"orient": "left", "values": [0.01,0.05,0.1,0.5,1,5], "labelExpr": "datum.value >= 1 ? format(datum.value, 'd') : (datum.value == 0.5 ? '0.50' : (datum.value == 0.1 ? '0.10' : format(datum.value, '.2f')))", "tickSize": -7, "labelPadding": 12, "title": "res(δn)ₛₕₒₜ, ·10⁻⁴", "titleX": -88, "titleY": 181, "titleBaseline": "middle"}},
      "color": {"field": "k", "type": "nominal", "scale": {"domain": ["δθ=−0.05°","δθ=−0.1°","δθ=−0.2°","δθ=−0.5°"], "range": ["#0b47c4","#7316a8","#870a26","#cf5f0c"]}, "legend": null}
     }},
    {"mark": {"type": "point", "opacity": 0},
     "encoding": {
      "x": {"field": "dn", "type": "quantitative", "axis": {"orient": "top", "labels": false, "values": [2,4,6,8,10], "tickSize": -7, "title": null}},
      "y": {"field": "r", "type": "quantitative", "axis": {"orient": "right", "labels": false, "values": [0.01,0.05,0.1,0.5,1,5], "tickSize": -7, "title": null}}}},
    {"mark": {"type": "point", "opacity": 0},
     "encoding": {
      "x": {"field": "dn", "type": "quantitative", "axis": {"orient": "bottom", "labels": false, "domain": false, "values": [2.5,3,3.5,4.5,5,5.5,6.5,7,7.5,8.5,9,9.5], "tickSize": -4, "title": null}},
      "y": {"field": "r", "type": "quantitative", "axis": {"orient": "left", "labels": false, "domain": false, "values": [0.006,0.007,0.008,0.009,0.02,0.03,0.04,0.06,0.07,0.08,0.09,0.2,0.3,0.4,0.6,0.7,0.8,0.9,2,3,4], "tickSize": -4, "title": null}}}},
    {"mark": {"type": "point", "opacity": 0},
     "encoding": {
      "x": {"field": "dn", "type": "quantitative", "axis": {"orient": "top", "labels": false, "domain": false, "values": [2.5,3,3.5,4.5,5,5.5,6.5,7,7.5,8.5,9,9.5], "tickSize": -4, "title": null}},
      "y": {"field": "r", "type": "quantitative", "axis": {"orient": "right", "labels": false, "domain": false, "values": [0.006,0.007,0.008,0.009,0.02,0.03,0.04,0.06,0.07,0.08,0.09,0.2,0.3,0.4,0.6,0.7,0.8,0.9,2,3,4], "tickSize": -4, "title": null}}}}
   ],
   "resolve": {"axis": {"x": "independent", "y": "independent"}}
  }
 ]
}
